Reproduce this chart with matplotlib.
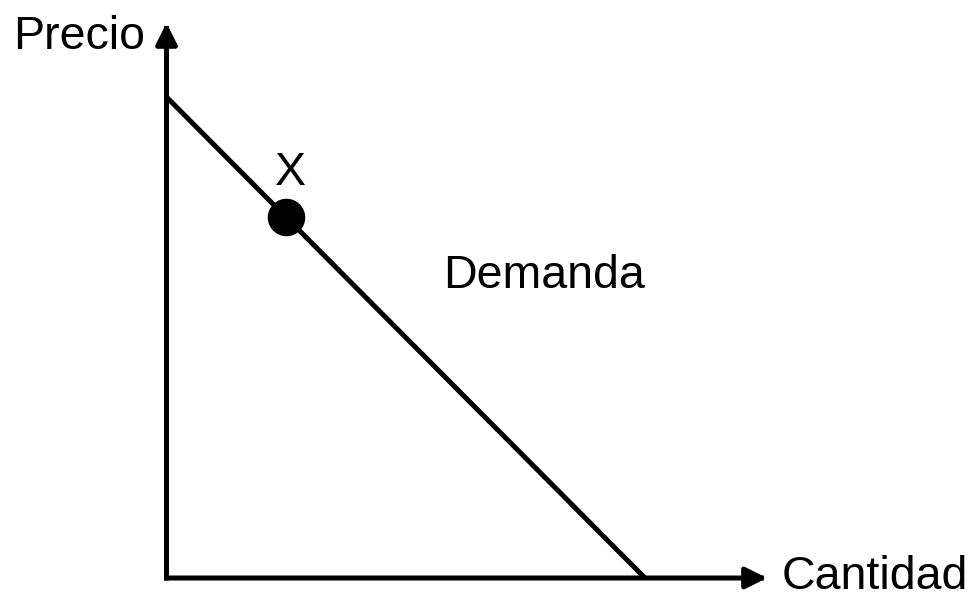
import matplotlib
matplotlib.use('Agg')
import matplotlib.pyplot as plt

plt.rcParams['font.family'] = ['Liberation Sans', 'DejaVu Sans']

# demand curve (quantity, price) and the marked point
demand_q = [0, 10]
demand_p = [10, 0]
point_q = [2.5]
point_p = [7.5]
point_label = 'X'
curve_label = 'Demanda'
x_label = 'Cantidad'
y_label = 'Precio'

fig = plt.figure(figsize=(9.75, 5.97), dpi=100)
# origin of the diagram at px (166.5, 578), (10, 10) at px (645, 97)
ax = fig.add_axes([166.5 / 975, (597 - 578) / 597, 478.5 / 975, 481 / 597])
ax.set_xlim(0, 10)
ax.set_ylim(0, 10)
ax.axis('off')

lw = 3.6
arrow_kw = dict(arrowstyle='-|>,head_length=0.4,head_width=0.2', lw=lw,
                color='black', mutation_scale=32, shrinkA=0, shrinkB=0,
                capstyle='projecting')

# axes with arrow heads
ax.annotate('', xy=(12.55, 0), xytext=(0, 0), arrowprops=arrow_kw,
            annotation_clip=False)
ax.annotate('', xy=(0, 11.54), xytext=(0, 0), arrowprops=arrow_kw,
            annotation_clip=False)

# demand line and point
ax.plot(demand_q, demand_p, color='black', lw=lw, clip_on=False,
        solid_capstyle='butt')
ax.plot(point_q, point_p, 'o', color='black', markersize=26, clip_on=False)

fs = 33.5
ax.text(-0.45, 11.0, y_label, fontsize=fs, ha='right', va='baseline')
ax.text(12.86, -0.22, x_label, fontsize=fs, ha='left', va='baseline')
ax.text(5.78, 6.03, curve_label, fontsize=fs, ha='left', va='baseline')
ax.text(2.6, 8.17, point_label, fontsize=fs, ha='center', va='baseline')

fig.savefig('out.png', dpi=100)
